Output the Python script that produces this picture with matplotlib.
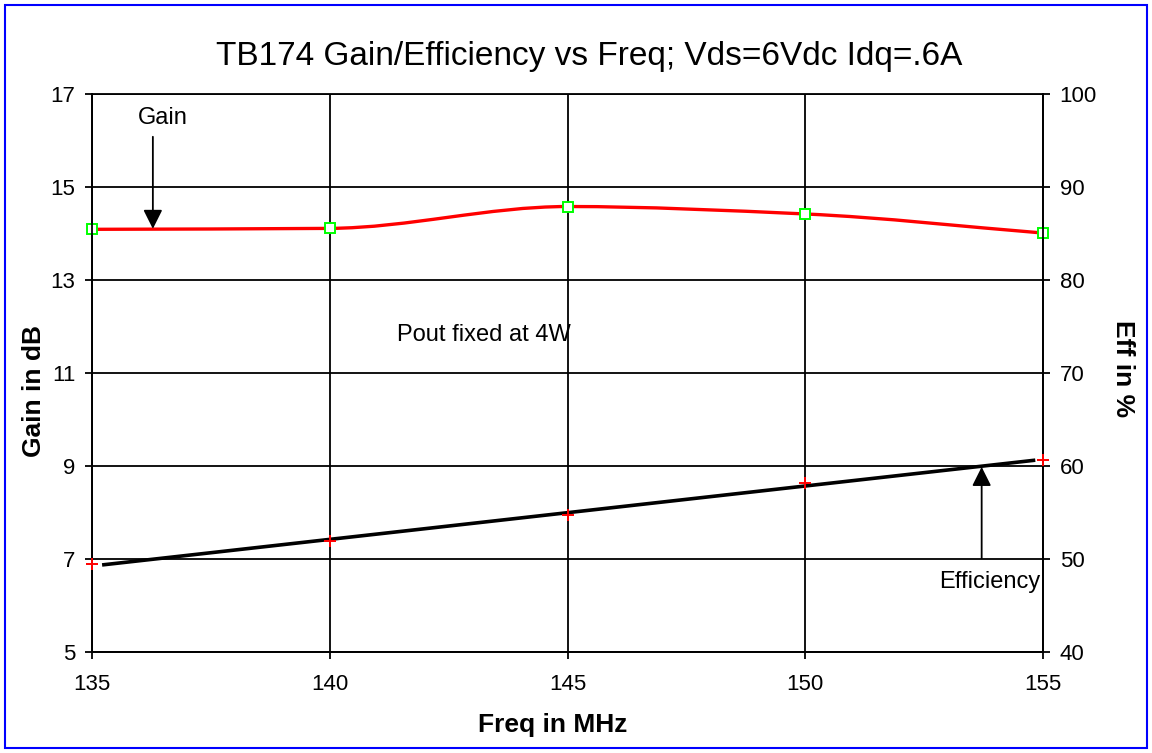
import matplotlib
matplotlib.use("Agg")
import matplotlib.pyplot as plt
import numpy as np
from matplotlib.path import Path
from matplotlib.patches import PathPatch, Rectangle

freq = [135, 140, 145, 150, 155]
gain_db = [14.09, 14.11, 14.58, 14.42, 14.01]
eff_pct = [49.45, 51.9, 54.7, 58.2, 60.65]

x_ticks = [135, 140, 145, 150, 155]
gain_ticks = [5, 7, 9, 11, 13, 15, 17]
eff_ticks = [40, 50, 60, 70, 80, 90, 100]

plt.rcParams["font.family"] = ["Liberation Sans", "DejaVu Sans"]


def smooth_path(xs, ys):
    # monotone cubic tangents, drawn as bezier segments
    xs = np.asarray(xs, float)
    ys = np.asarray(ys, float)
    h = np.diff(xs)
    d = np.diff(ys) / h
    m = np.zeros_like(ys)
    m[0], m[-1] = d[0], d[-1]
    for i in range(1, len(xs) - 1):
        if d[i - 1] * d[i] <= 0:
            m[i] = 0.0
        else:
            m[i] = 2.0 / (1.0 / d[i - 1] + 1.0 / d[i])
    verts = [(xs[0], ys[0])]
    codes = [Path.MOVETO]
    for i in range(len(xs) - 1):
        verts += [(xs[i] + h[i] / 3, ys[i] + m[i] * h[i] / 3),
                  (xs[i + 1] - h[i] / 3, ys[i + 1] - m[i + 1] * h[i] / 3),
                  (xs[i + 1], ys[i + 1])]
        codes += [Path.CURVE4] * 3
    return Path(verts, codes)


fig = plt.figure(figsize=(11.52, 7.53), dpi=100)
ax = fig.add_axes([92 / 1152, 1 - 652 / 753, 951 / 1152, 558 / 753])
ax2 = ax.twinx()

ax.set_xlim(135, 155)
ax.set_ylim(5, 17)
ax2.set_ylim(40, 100)
ax.set_xticks(x_ticks)
ax.set_yticks(gain_ticks)
ax2.set_yticks(eff_ticks)
ax.grid(True, color="black", linewidth=1.3)
for a in (ax, ax2):
    for s in a.spines.values():
        s.set_color("black")
        s.set_linewidth(1.3)
    a.tick_params(length=5, width=1.3, labelsize=16, colors="black", pad=7)
ax.tick_params(axis="x", pad=11)
ax.spines["top"].set_visible(False)

# gain: smoothed red line with open green squares
ax.add_patch(PathPatch(smooth_path(freq, gain_db), fill=False,
                       edgecolor="red", linewidth=2.4, zorder=3))
ax.plot(freq, gain_db, linestyle="none", marker="s", markersize=7,
        markerfacecolor="white", markeredgecolor="#00ff00",
        markeredgewidth=1.4, zorder=4, clip_on=False)

# efficiency: red crosses with black straight fit line
coef = np.polyfit(freq, eff_pct, 1)
fx = np.array([135.25, 154.8])
ax2.plot(fx, np.polyval(coef, fx), color="black", linewidth=2.6, zorder=3)
ax2.plot(freq, eff_pct, linestyle="none", marker="+", markersize=8,
         color="red", markeredgewidth=1.4, zorder=5, clip_on=False)

fig.text(589 / 1152, 1 - 57 / 753,
         "TB174 Gain/Efficiency vs Freq; Vds=6Vdc Idq=.6A",
         fontsize=24, ha="center", va="center")
fig.text(553 / 1152, 1 - 725 / 753, "Freq in MHz", fontsize=19,
         fontweight="bold", ha="center", va="center")
fig.text(34 / 1152, 1 - 391 / 753, "Gain in dB", fontsize=19,
         fontweight="bold", ha="center", va="center", rotation=90)
fig.text(1123 / 1152, 1 - 369 / 753, "Eff in %", fontsize=19,
         fontweight="bold", ha="center", va="center", rotation=270)

arrow = dict(arrowstyle="-|>,head_length=0.8,head_width=0.4",
             color="black", lw=1.3, mutation_scale=14.5, shrinkA=0, shrinkB=0)
ax.text(136.49, 16.48, "Gain", fontsize=17, ha="center", va="center")
ax.annotate("", xy=(136.28, 14.1), xytext=(136.28, 16.08),
            arrowprops=arrow, zorder=5)
ax.text(141.41, 11.82, "Pout fixed at 4W", fontsize=17, ha="left",
        va="center")
ax2.annotate("", xy=(153.71, 59.9), xytext=(153.71, 50.1),
             arrowprops=arrow, zorder=5)
ax2.text(153.89, 47.56, "Efficiency", fontsize=17, ha="center", va="center")

fig.patches.append(Rectangle((5 / 1152, 5 / 753), 1142 / 1152, 743 / 753,
                             transform=fig.transFigure, fill=False,
                             edgecolor="blue", linewidth=1.5))

fig.savefig("out.png", dpi=100, facecolor="white")
